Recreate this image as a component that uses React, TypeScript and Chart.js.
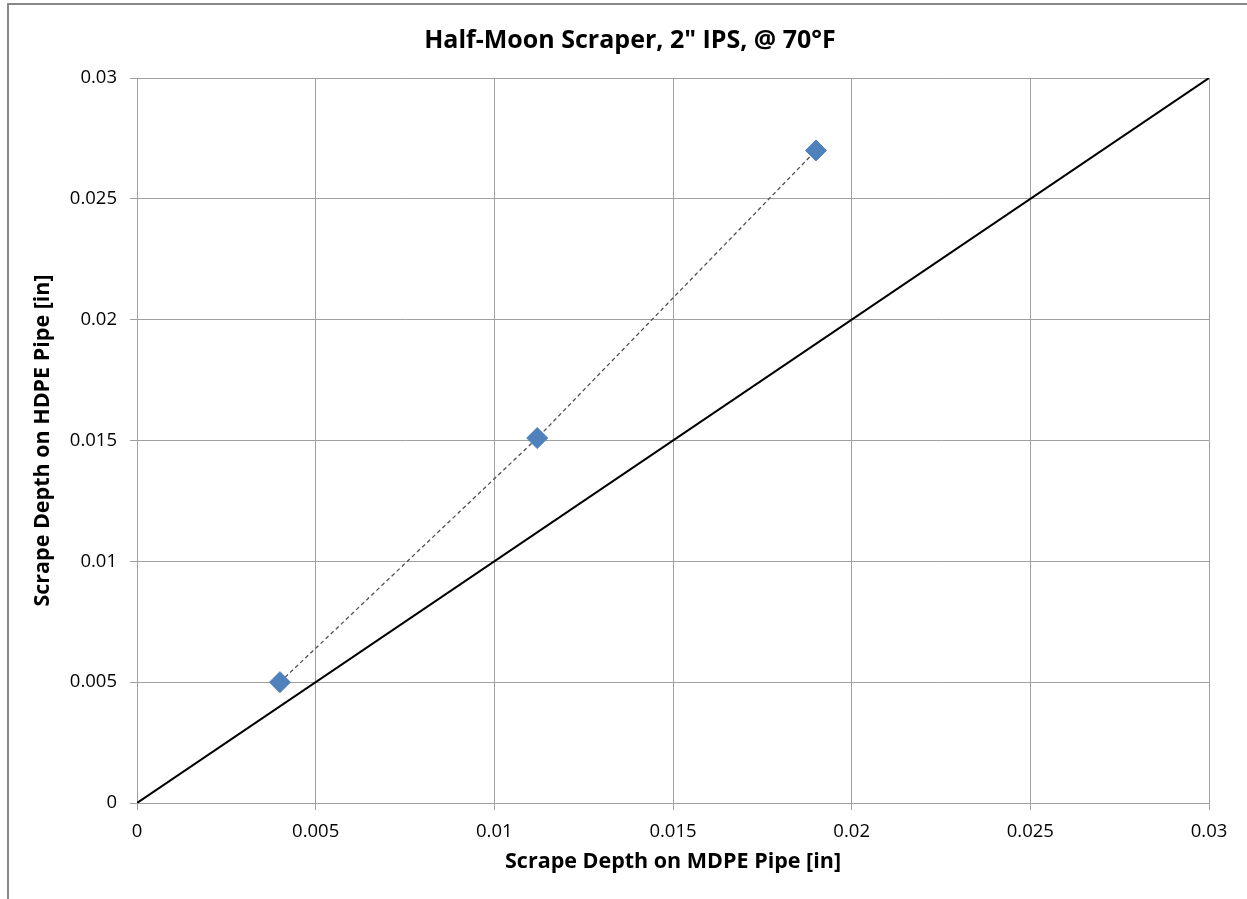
import React, { useEffect, useRef } from "react";
import { Chart, registerables } from "chart.js";

Chart.register(...registerables);

const titleText = 'Half-Moon Scraper, 2" IPS, @ 70°F';
const xTitle = "Scrape Depth on MDPE Pipe [in]";
const yTitle = "Scrape Depth on HDPE Pipe [in]";

const mdpeDepth = [0.004, 0.0112, 0.019];
const hdpeDepth = [0.005, 0.0151, 0.027];

const refLineX = [0, 0.03];
const refLineY = [0, 0.03];

const xTickValues = [0, 0.005, 0.01, 0.015, 0.02, 0.025, 0.03];
const xTickLabels = ["0", "0.005", "0.01", "0.015", "0.02", "0.025", "0.03"];
const yTickValues = [0, 0.005, 0.01, 0.015, 0.02, 0.025, 0.03];
const yTickLabels = ["0", "0.005", "0.01", "0.015", "0.02", "0.025", "0.03"];

const FONT = "'Open Sans', sans-serif";
const GRID = "#a0a0a0";

export default function App() {
  const ref = useRef<HTMLCanvasElement | null>(null);

  useEffect(() => {
    const canvas = ref.current;
    if (!canvas) return;
    const chart = new Chart(canvas, {
      type: "scatter",
      data: {
        datasets: [
          {
            label: "Data",
            data: mdpeDepth.map((x, i) => ({ x, y: hdpeDepth[i] })),
            showLine: true,
            borderColor: "#505050",
            borderWidth: 1.3,
            borderDash: [4, 3],
            pointStyle: "rectRot",
            pointRadius: 10.5,
            pointBackgroundColor: "#4F81BD",
            pointBorderColor: "#4F81BD",
            pointBorderWidth: 1,
          },
          {
            label: "1:1",
            data: refLineX.map((x, i) => ({ x, y: refLineY[i] })),
            showLine: true,
            borderColor: "#000000",
            borderWidth: 2,
            pointRadius: 0,
          },
        ],
      },
      options: {
        responsive: false,
        animation: false,
        devicePixelRatio: 1,
        layout: { padding: { left: 42, top: 0, right: 50, bottom: 0 } },
        plugins: {
          legend: { display: false },
          tooltip: { enabled: false },
          title: {
            display: true,
            text: titleText,
            color: "#000000",
            font: { family: FONT, size: 25, weight: "bold", lineHeight: 1.2 },
            padding: { top: 21, bottom: 22 },
          },
        },
        scales: {
          x: {
            type: "linear",
            min: 0,
            max: 0.03,
            afterFit: (s: any) => {
              s.height = 102;
            },
            afterBuildTicks: (s: any) => {
              s.ticks = xTickValues.map((v) => ({ value: v }));
            },
            ticks: {
              color: "#000000",
              font: { family: FONT, size: 18.5 },
              padding: 11,
              maxRotation: 0,
              callback: (_v: any, i: number) => xTickLabels[i],
            },
            grid: { color: GRID, lineWidth: 1, tickLength: 7, drawTicks: true },
            border: { color: GRID, width: 1 },
            title: {
              display: true,
              text: xTitle,
              color: "#000000",
              font: { family: FONT, size: 21.5, weight: "bold", lineHeight: 1.2 },
              padding: { top: 0, bottom: 30 },
            },
          },
          y: {
            type: "linear",
            min: 0,
            max: 0.03,
            afterFit: (s: any) => {
              s.width = 86;
            },
            afterBuildTicks: (s: any) => {
              s.ticks = yTickValues.map((v) => ({ value: v }));
            },
            ticks: {
              color: "#000000",
              font: { family: FONT, size: 18.5 },
              padding: 13,
              callback: (_v: any, i: number) => yTickLabels[i],
            },
            grid: { color: GRID, lineWidth: 1, tickLength: 7, drawTicks: true },
            border: { color: GRID, width: 1 },
            title: {
              display: true,
              text: yTitle,
              color: "#000000",
              font: { family: FONT, size: 21.5, weight: "bold", lineHeight: 1.2 },
              padding: { top: -21, bottom: 0 },
            },
          },
        },
      },
    });
    return () => chart.destroy();
  }, []);

  return (
    <div
      style={{
        position: "absolute",
        left: 7,
        top: 3,
        width: 1250,
        height: 900,
        border: "2px solid #888888",
        background: "#ffffff",
      }}
    >
      <canvas ref={ref} width={1250} height={900} style={{ display: "block" }} />
    </div>
  );
}
